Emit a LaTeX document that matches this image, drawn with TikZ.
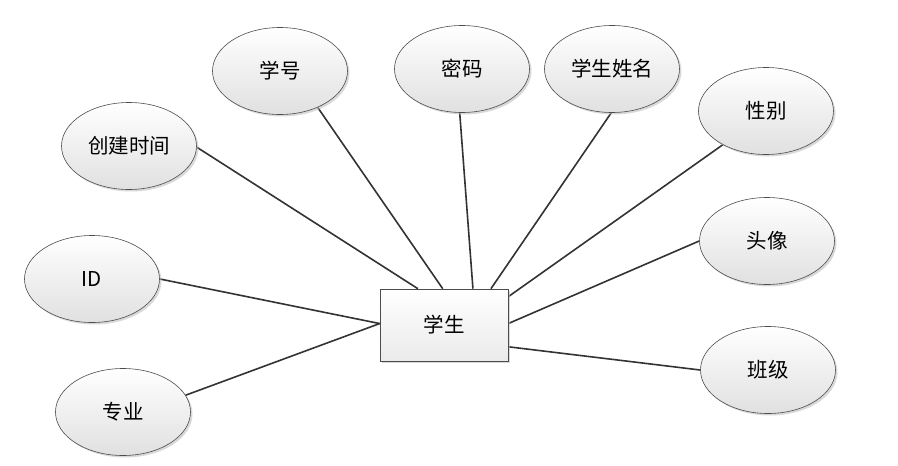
\documentclass[tikz,border=0pt]{standalone}
\usepackage{fontspec}
\setmainfont{Noto Sans CJK SC}
\usetikzlibrary{shapes.geometric,shadows,backgrounds,calc}
\begin{document}
\begin{tikzpicture}[x=1pt,y=-1pt,
  attr/.style={ellipse,draw=black!70,line width=0.6pt,minimum width=135pt,minimum height=87pt,inner sep=0pt,
    top color=white,bottom color=black!12,font=\fontsize{20.5}{24}\selectfont,
    drop shadow={shadow xshift=2pt,shadow yshift=-2pt,fill=black!25,opacity=0.6}},
  ent/.style={rectangle,draw=black!70,line width=0.6pt,minimum width=128pt,minimum height=72pt,inner sep=0pt,
    top color=white,bottom color=black!8,font=\fontsize{20.5}{24}\selectfont,
    drop shadow={shadow xshift=2pt,shadow yshift=-2pt,fill=black!25,opacity=0.6}},
  link/.style={draw=black!80,line width=1.6pt}]
\useasboundingbox (0,0) rectangle (898,466);
\node[ent] (s) at (444,325) {学生};
\node[attr] (xh) at (280,71) {学号};
\node[attr] (mm) at (462,69) {密码};
\node[attr] (xm) at (612,69) {学生姓名};
\node[attr] (xb) at (766,111) {性别};
\node[attr] (cj) at (129,146) {创建时间};
\node[attr] (id) at (92,279) {ID};
\node[attr] (zy) at (123,412) {专业};
\node[attr] (tx) at (767,241) {头像};
\node[attr] (bj) at (768,370) {班级};
\coordinate (t1) at ($(s.north west)!0.297!(s.north east)$);
\coordinate (t2) at ($(s.north west)!0.49!(s.north east)$);
\coordinate (t3) at ($(s.north west)!0.725!(s.north east)$);
\coordinate (t4) at ($(s.north west)!0.865!(s.north east)$);
\coordinate (r1) at ($(s.north east)!0.11!(s.south east)$);
\coordinate (r2) at ($(s.north east)!0.48!(s.south east)$);
\coordinate (r3) at ($(s.north east)!0.80!(s.south east)$);
\coordinate (l1) at ($(s.north west)!0.48!(s.south west)$);
\begin{scope}[on background layer]
\draw[link] (t1) -- (cj.-1);
\draw[link] (t2) -- (xh.-44);
\draw[link] (t3) -- (mm.-93);
\draw[link] (t4) -- (xm.-91);
\draw[link] (r1) -- (xb.-142);
\draw[link] (r2) -- (tx.180);
\draw[link] (r3) -- (bj.180);
\draw[link] (l1) -- (id.0);
\draw[link] (l1) -- (zy.15);
\end{scope}
\end{tikzpicture}
\end{document}
